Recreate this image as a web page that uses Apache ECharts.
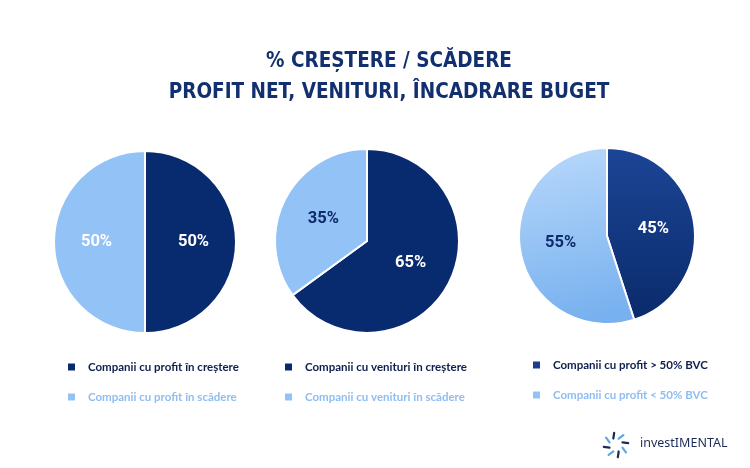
<!DOCTYPE html>
<html><head><meta charset="utf-8">
<script src="https://cdn.jsdelivr.net/npm/echarts@6/dist/echarts.min.js"></script>
<style>html,body{margin:0;padding:0;background:#fff}#c{width:750px;height:468px}</style>
</head><body><div id="c"></div>
<script>
const titleLines = ['% CREȘTERE / SCĂDERE', 'PROFIT NET, VENITURI, ÎNCADRARE BUGET'];
const pie1Names = ['Companii cu profit în creștere', 'Companii cu profit în scădere'];
const pie1Values = [50, 50];
const pie2Names = ['Companii cu venituri în creștere', 'Companii cu venituri în scădere'];
const pie2Values = [65, 35];
const pie3Names = ['Companii cu profit > 50% BVC', 'Companii cu profit < 50% BVC'];
const pie3Values = [45, 55];

const DARK = '#082a6e', LIGHT = '#93c2f6';
const chart = echarts.init(document.getElementById('c'));

function grad(a, b, x2, y2) {
  return new echarts.graphic.LinearGradient(0, 0, x2, y2, [{offset: 0, color: a}, {offset: 1, color: b}]);
}
function labelFor(color) {
  return {show: true, position: 'inner', formatter: '{c}%', color: color,
    fontFamily: 'Roboto, "Liberation Sans", sans-serif', fontWeight: 'bold', fontSize: 16.5};
}
function makePie(names, values, center, radius, darkColor, lightColor, lightLabelColor) {
  return {
    type: 'pie', center: center, radius: radius, startAngle: 90, clockwise: true,
    silent: true, animation: false,
    itemStyle: {borderColor: '#fff', borderWidth: 2},
    labelLine: {show: false},
    data: [
      {name: names[0], value: values[0], itemStyle: {color: darkColor}, label: labelFor('#ffffff')},
      {name: names[1], value: values[1], itemStyle: {color: lightColor}, label: labelFor(lightLabelColor)}
    ]
  };
}
function makeLegend(names, left, top, darkIcon, lightIcon) {
  return {
    orient: 'vertical', left: left, top: top, itemWidth: 9, itemHeight: 9, itemGap: 18,
    icon: 'rect', selectedMode: false,
    data: [
      {name: names[0], itemStyle: {color: darkIcon}, textStyle: {color: '#0d1f4f'}},
      {name: names[1], itemStyle: {color: lightIcon}, textStyle: {color: '#8fbdf1'}}
    ],
    textStyle: {fontFamily: 'Lato, "Open Sans", sans-serif', fontWeight: 'bold', fontSize: 11.5, padding: [0, 0, 0, 7]}
  };
}

const logo = [];
const cx = 616, cy = 445;
for (let i = 0; i < 8; i++) {
  const a = (i * 45 + 22.5) * Math.PI / 180;
  const r1 = 7, r2 = 12;
  logo.push({type: 'line', silent: true,
    shape: {x1: cx + r1 * Math.sin(a), y1: cy - r1 * Math.cos(a), x2: cx + r2 * Math.sin(a) + 3 * Math.cos(a), y2: cy - r2 * Math.cos(a) + 3 * Math.sin(a)},
    style: {stroke: i % 2 ? '#1c2b5a' : '#5fa7de', lineWidth: 2.2, lineCap: 'round'}});
}
logo.push({type: 'text', left: 640, top: 437, silent: true,
  style: {text: 'investIMENTAL', fill: '#1c2b5a', font: '12.5px "Noto Sans", sans-serif'}});

chart.setOption({
  backgroundColor: '#ffffff',
  title: {
    text: titleLines.join('\n'), left: 384, textAlign: 'center', top: 41,
    textStyle: {color: '#12306f', fontFamily: '"Liberation Sans Narrow", "DejaVu Sans Condensed", sans-serif',
      fontWeight: 'bold', fontSize: 20.5, lineHeight: 31}
  },
  legend: [
    makeLegend(pie1Names, 61, 356, DARK, LIGHT),
    makeLegend(pie2Names, 278, 356, DARK, LIGHT),
    makeLegend(pie3Names, 526, 354, '#1a3d8f', '#93c2f6')
  ],
  series: [
    makePie(pie1Names, pie1Values, [145, 242], 91, DARK, LIGHT, '#ffffff'),
    makePie(pie2Names, pie2Values, [367, 241], 92, DARK, LIGHT, '#0d2a6a'),
    makePie(pie3Names, pie3Values, [607, 236], 88, grad('#1c4596', '#0a2b6b', 0, 1), grad('#b9d9fb', '#78b1ef', 0.3, 1), '#0d2a6a')
  ],
  graphic: logo
});
</script></body></html>
